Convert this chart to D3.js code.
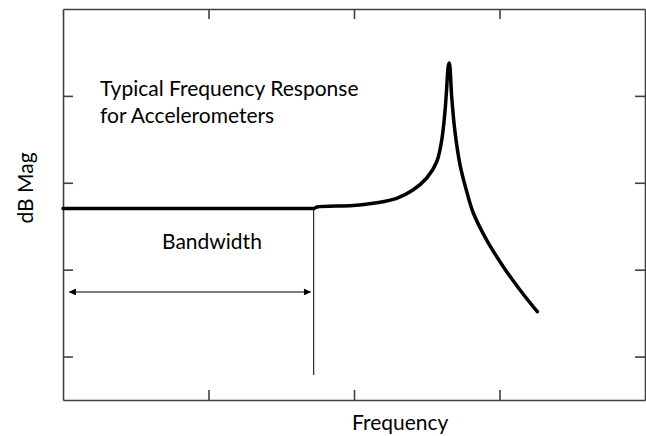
<!DOCTYPE html>
<html><head><meta charset="utf-8">
<script src="https://cdn.jsdelivr.net/npm/d3@7"></script>
<style>html,body{margin:0;padding:0;background:#fff;}svg{display:block;}</style>
</head><body>
<script>
// Frequency response (arbitrary units): x = frequency, y = dB magnitude
const freq = [0, 0.05, 1.70, 1.725, 1.746, 1.993, 2.156, 2.293, 2.405, 2.500, 2.568, 2.603, 2.625, 2.637, 2.648, 2.655, 2.672, 2.694, 2.729, 2.770, 2.820, 2.912, 3.026, 3.141, 3.260];
const mag  = [1.704, 1.704, 1.704, 1.704, 1.721, 1.738, 1.770, 1.821, 1.917, 2.055, 2.239, 2.492, 2.814, 3.090, 3.343, 3.378, 2.975, 2.587, 2.204, 1.928, 1.652, 1.341, 1.034, 0.766, 0.516];
const xTicks = [1, 2, 3];
const yTicks = [0, 1, 2, 3];
const xDomain = [0, 4];
const yDomain = [-0.5, 4];
const bandwidthEdge = 1.723;
const bandwidthLineBottom = -0.212;
const arrowY = 0.743;
const arrowX = [0.041, 1.704];
const titleLines = ["Typical Frequency Response", "for Accelerometers"];

const W = 646, H = 436;
const L = 63, R = 645, T = 9, B = 400;
const svg = d3.select("body").append("svg").attr("width", W).attr("height", H);
const x = d3.scaleLinear().domain(xDomain).range([L, R]);
const y = d3.scaleLinear().domain(yDomain).range([B, T]);
const font = "Lato, 'Open Sans', sans-serif";
const fs = 21;
const axisColor = "#404040";

function styleAxis(g){
  g.selectAll("path.domain").attr("stroke", axisColor).attr("stroke-width", 1.6);
  g.selectAll(".tick line").attr("stroke", axisColor).attr("stroke-width", 1.6);
  g.selectAll("text").remove();
}
svg.append("g").attr("transform", `translate(0,${B})`)
  .call(d3.axisBottom(x).tickValues(xTicks).tickSizeInner(-10).tickSizeOuter(0).tickFormat("")).call(styleAxis);
svg.append("g").attr("transform", `translate(0,${T})`)
  .call(d3.axisTop(x).tickValues(xTicks).tickSizeInner(-10).tickSizeOuter(0).tickFormat("")).call(styleAxis);
svg.append("g").attr("transform", `translate(${L},0)`)
  .call(d3.axisLeft(y).tickValues(yTicks).tickSizeInner(-10).tickSizeOuter(0).tickFormat("")).call(styleAxis);
svg.append("g").attr("transform", `translate(${R},0)`)
  .call(d3.axisRight(y).tickValues(yTicks).tickSizeInner(-10).tickSizeOuter(0).tickFormat("")).call(styleAxis);

// bandwidth vertical line
svg.append("line")
  .attr("x1", x(bandwidthEdge)).attr("x2", x(bandwidthEdge))
  .attr("y1", y(mag[0])).attr("y2", y(bandwidthLineBottom))
  .attr("stroke", "#000").attr("stroke-width", 1);

// curve
const pts = freq.map((f, i) => [f, mag[i]]);
svg.append("path").datum(pts)
  .attr("fill", "none").attr("stroke", "#000").attr("stroke-width", 3.5)
  .attr("stroke-linejoin", "round").attr("stroke-linecap", "round")
  .attr("d", d3.line().x(d => x(d[0])).y(d => y(d[1])).curve(d3.curveCatmullRom.alpha(0.5)));

// arrow
const defs = svg.append("defs");
defs.append("marker").attr("id", "ah").attr("viewBox", "0 0 10 10").attr("refX", 10).attr("refY", 5)
  .attr("markerWidth", 9).attr("markerHeight", 7).attr("markerUnits", "userSpaceOnUse").attr("orient", "auto-start-reverse")
  .append("path").attr("d", "M0,0 L10,5 L0,10 Z").attr("fill", "#000");
svg.append("line")
  .attr("x1", x(arrowX[0])).attr("x2", x(arrowX[1]))
  .attr("y1", y(arrowY)).attr("y2", y(arrowY))
  .attr("stroke", "#000").attr("stroke-width", 1)
  .attr("marker-start", "url(#ah)").attr("marker-end", "url(#ah)");

// texts
const tt = svg.append("text").attr("font-family", font).attr("font-size", fs).attr("fill", "#000");
titleLines.forEach((t, i) => tt.append("tspan").attr("x", 100).attr("y", 96 + i * 27).text(t));
svg.append("text").attr("x", 162).attr("y", 249).attr("font-family", font).attr("font-size", fs).text("Bandwidth");
svg.append("text").attr("x", 352).attr("y", 430).attr("font-family", font).attr("font-size", fs).text("Frequency");
svg.append("text").attr("transform", "translate(33,188) rotate(-90)").attr("text-anchor", "middle")
  .attr("font-family", font).attr("font-size", fs).text("dB Mag");
</script>
</body></html>
